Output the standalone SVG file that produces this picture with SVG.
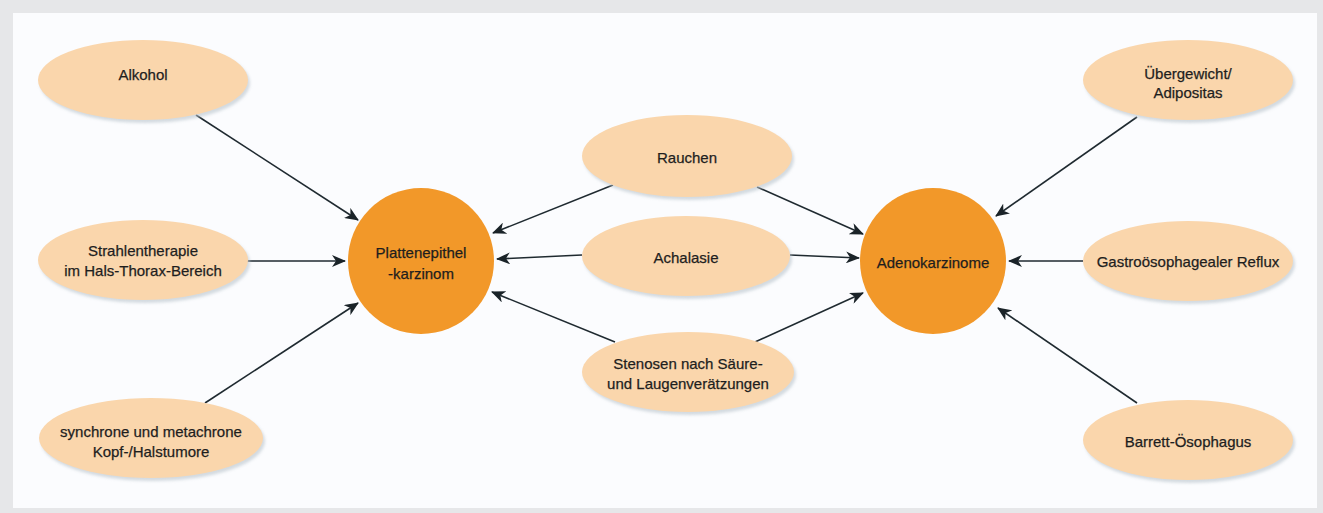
<svg xmlns="http://www.w3.org/2000/svg" width="1323" height="513" viewBox="0 0 1323 513">
<style>
.t{font-family:"Liberation Sans",Arial,sans-serif;font-size:15px;fill:#1e1e1e;stroke:#1e1e1e;stroke-width:0.25;text-anchor:middle;dominant-baseline:central}
.e{fill:#fad6ac}
.s{fill:#b9c4cc;opacity:0.6}
.c{fill:#f29829}
.a{stroke:#1f2a30;stroke-width:1.6;fill:none;marker-end:url(#ah)}
</style>
<defs>
<marker id="ah" viewBox="0 0 14 12" refX="13" refY="6" markerWidth="14" markerHeight="12" markerUnits="userSpaceOnUse" orient="auto">
<path d="M0,0 L14,6 L0,12 L4,6 Z" fill="#1a2328"/>
</marker>
<filter id="bl" x="-10%" y="-10%" width="120%" height="130%"><feGaussianBlur stdDeviation="1.5"/></filter>
</defs>
<rect x="0" y="0" width="1323" height="513" fill="#e6e7e9"/>
<rect x="13" y="13" width="1304" height="495" fill="#fbfcfe"/>

<g id="connectors">
<line class="a" x1="196" y1="115" x2="358" y2="220"/>
<line class="a" x1="246" y1="261" x2="345" y2="261"/>
<line class="a" x1="205" y1="403" x2="358" y2="303"/>
<line class="a" x1="613" y1="185" x2="493" y2="233"/>
<line class="a" x1="582" y1="255" x2="497" y2="259"/>
<line class="a" x1="615" y1="342" x2="492" y2="292"/>
<line class="a" x1="757" y1="187" x2="863" y2="234"/>
<line class="a" x1="790" y1="255" x2="859" y2="258"/>
<line class="a" x1="755" y1="342" x2="863" y2="293"/>
<line class="a" x1="1137" y1="117" x2="996" y2="216"/>
<line class="a" x1="1083" y1="261" x2="1009" y2="261"/>
<line class="a" x1="1137" y1="403" x2="998" y2="308"/>
</g>

<g id="alkohol">
<ellipse class="s" cx="145" cy="83" rx="105" ry="40" filter="url(#bl)"/>
<ellipse class="e" cx="143" cy="80" rx="105" ry="40"/>
<text class="t" x="143" y="74">Alkohol</text>
</g>
<g id="strahlentherapie">
<ellipse class="s" cx="145" cy="263" rx="105" ry="40" filter="url(#bl)"/>
<ellipse class="e" cx="143" cy="260" rx="105" ry="40"/>
<text class="t" x="143" y="250">Strahlentherapie</text>
<text class="t" x="143" y="270">im Hals-Thorax-Bereich</text>
</g>
<g id="synchrone">
<ellipse class="s" cx="153" cy="441" rx="112" ry="40" filter="url(#bl)"/>
<ellipse class="e" cx="151" cy="438" rx="112" ry="40"/>
<text class="t" x="151" y="431">synchrone und metachrone</text>
<text class="t" x="151" y="451">Kopf-/Halstumore</text>
</g>
<g id="plattenepithelkarzinom">
<circle class="c" cx="421" cy="261" r="73"/>
<text class="t" x="421" y="252">Plattenepithel</text>
<text class="t" x="421" y="273">-karzinom</text>
</g>
<g id="rauchen">
<ellipse class="s" cx="689" cy="159" rx="105" ry="41" filter="url(#bl)"/>
<ellipse class="e" cx="687" cy="156" rx="105" ry="41"/>
<text class="t" x="687" y="157">Rauchen</text>
</g>
<g id="achalasie">
<ellipse class="s" cx="688" cy="259" rx="104" ry="40" filter="url(#bl)"/>
<ellipse class="e" cx="686" cy="256" rx="104" ry="40"/>
<text class="t" x="686" y="257">Achalasie</text>
</g>
<g id="stenosen">
<ellipse class="s" cx="690" cy="375" rx="106" ry="40" filter="url(#bl)"/>
<ellipse class="e" cx="688" cy="372" rx="106" ry="40"/>
<text class="t" x="688" y="363">Stenosen nach Säure-</text>
<text class="t" x="688" y="383">und Laugenverätzungen</text>
</g>
<g id="adenokarzinome">
<circle class="c" cx="933" cy="261" r="73"/>
<text class="t" x="933" y="262">Adenokarzinome</text>
</g>
<g id="uebergewicht">
<ellipse class="s" cx="1190" cy="83" rx="105" ry="40" filter="url(#bl)"/>
<ellipse class="e" cx="1188" cy="80" rx="105" ry="40"/>
<text class="t" x="1188" y="73">Übergewicht/</text>
<text class="t" x="1188" y="92">Adipositas</text>
</g>
<g id="reflux">
<ellipse class="s" cx="1190" cy="264" rx="105" ry="40" filter="url(#bl)"/>
<ellipse class="e" cx="1188" cy="261" rx="105" ry="40"/>
<text class="t" x="1188" y="261">Gastroösophagealer Reflux</text>
</g>
<g id="barrett">
<ellipse class="s" cx="1190" cy="443" rx="105" ry="40" filter="url(#bl)"/>
<ellipse class="e" cx="1188" cy="440" rx="105" ry="40"/>
<text class="t" x="1188" y="441">Barrett-Ösophagus</text>
</g>
</svg>
